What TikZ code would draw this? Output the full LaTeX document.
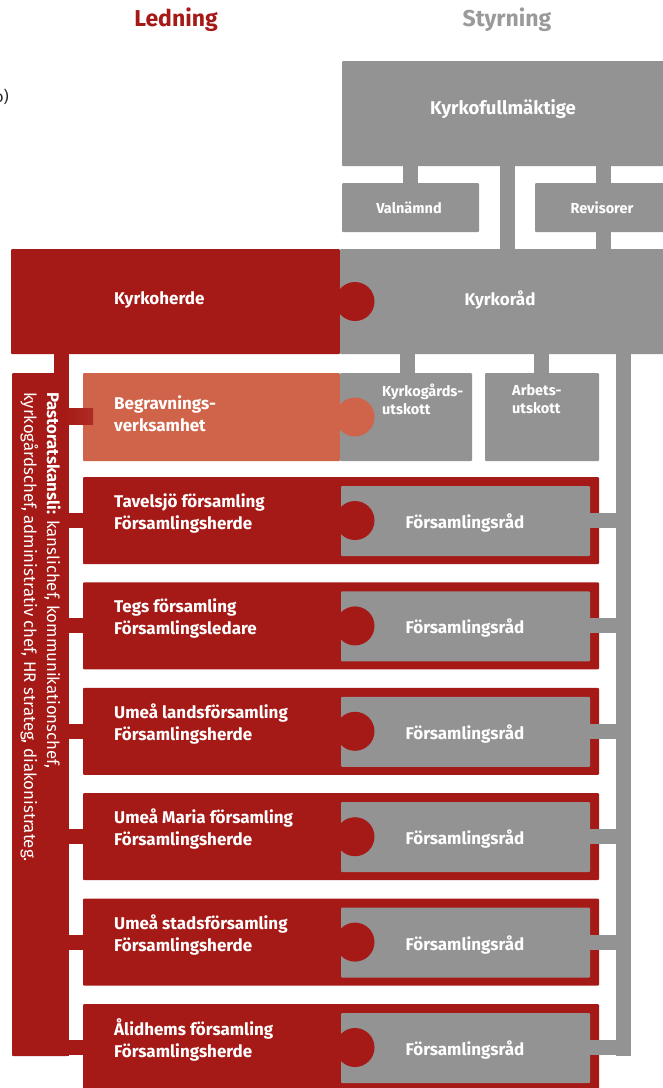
\documentclass[tikz,border=0pt]{standalone}
\usepackage{fontspec}
\setmainfont{Fira Sans}
\definecolor{dred}{HTML}{A51916}
\definecolor{gr}{HTML}{939393}
\definecolor{coral}{HTML}{D0644A}
\definecolor{tgray}{HTML}{9A9A9A}
\usetikzlibrary{fit}
\tikzset{
  boxbase/.style={inner sep=0pt, outer sep=0pt, rounded corners=1pt, draw=none},
  lbl/.style={text=white, font=\fontsize{17}{22}\selectfont\bfseries, inner sep=0pt, align=left},
  slbl/.style={text=white, font=\fontsize{14.5}{18}\selectfont\bfseries, inner sep=0pt, align=left},
  gconn/.style={draw=gr, line width=15pt},
  rconn/.style={draw=dred, line width=15pt},
  knob/.style={circle, inner sep=0pt, minimum size=39pt, draw=none},
  ttl/.style={font=\fontsize{23}{26}\selectfont\bfseries, inner sep=0pt}
}
\newcommand{\rbox}[6]{% name, x1, y1, x2, y2, color
  \path[fill=#6, rounded corners=1pt] (#2,#3) rectangle (#4,#5);
  \node[boxbase, fit={(#2,#3) (#4,#5)}] (#1) {};
}
\begin{document}
\begin{tikzpicture}[x=1pt,y=-1pt]
\useasboundingbox (0,0) rectangle (662,1088);

% clipped fragment at the left edge
\node[anchor=east, inner sep=0pt, font=\fontsize{16}{18}\selectfont, text=black!85] (frag) at (9,97) {o)};

% titles
\node[ttl, text=dred] (ledning) at (176,20) {Ledning};
\node[ttl, text=tgray] (styrning) at (507,20) {Styrning};

% ---- top governance ----
\rbox{kf}{342}{61}{672}{166}{gr}
\node[font=\fontsize{18.5}{22}\selectfont\bfseries, text=white, inner sep=0pt] (kft) at (503,109) {Kyrkofullmäktige};

% connectors from Kyrkofullmäktige
\draw[gconn] (kf.south -| 410.5,0) -- (410.5,183);
\draw[gconn] (kf.south -| 507.5,0) -- (507.5,252);
\draw[gconn] (kf.south -| 603.5,0) -- (603.5,252);

\rbox{val}{342}{183}{479}{232}{gr}
\node[slbl] (valt) at (409,208) {Valnämnd};
\rbox{rev}{535}{183}{672}{232}{gr}
\node[slbl] (revt) at (602,208) {Revisorer};

% ---- Kyrkoherde / Kyrkoråd ----
\draw[rconn] (61,350) -- (61,1056);
\draw[gconn] (623.5,350) -- (623.5,1056);
\draw[gconn] (407.5,350) -- (407.5,376);
\draw[gconn] (541.5,350) -- (541.5,376);

\rbox{kh}{11}{249}{340}{354}{dred}
\rbox{kr}{340}{249}{672}{354}{gr}
\node[knob, fill=dred] (khk) at (355,301.5) {};
\node[lbl, anchor=west] (kht) at (114,300) {Kyrkoherde};
\node[lbl] (krt) at (500,300) {Kyrkoråd};

% Pastoratskansli
\rbox{past}{12}{373}{68}{1056}{dred}
\node[rotate=-90, anchor=north west, inner sep=0pt, align=left, text=white,
      font=\fontsize{16.8}{23}\selectfont] (pastt) at (61,392)
  {\textbf{Pastoratskansli:} kanslichef, kommunikationschef,\\kyrkogårdschef, administrativ chef, HR strateg, diakonistrateg.};

% Begravningsverksamhet
\rbox{beg}{83}{373}{340}{461}{coral}
\rbox{kgu}{340}{373}{472}{461}{gr}
\rbox{au}{485}{373}{599}{461}{gr}
\node[knob, fill=coral] (begk) at (355,417) {};
\path[left color=dred, right color=dred!75!coral] (63,408) rectangle (93,424);
\node[lbl, anchor=west] (begt) at (114,414) {Begravnings-\\verksamhet};
\node[slbl, anchor=west] (kgut) at (382,399) {Kyrkogårds-\\utskott};
\node[slbl, anchor=west] (aut) at (512,399) {Arbets-\\utskott};

% ---- parishes ----
\foreach \i/\nameA/\nameB in {0/Tavelsjö församling/Församlingsherde,
                              1/Tegs församling/Församlingsledare,
                              2/Umeå landsförsamling/Församlingsherde,
                              3/Umeå Maria församling/Församlingsherde,
                              4/Umeå stadsförsamling/Församlingsherde,
                              5/Ålidhems församling/Församlingsherde}{
  \pgfmathsetmacro{\T}{477+105.4*\i}
  \pgfmathsetmacro{\Tb}{\T+87}
  \pgfmathsetmacro{\Ti}{\T+9}
  \pgfmathsetmacro{\Tj}{\T+79}
  \pgfmathsetmacro{\Tc}{\T+43.5}
  \rbox{par\i}{83}{\T}{599}{\Tb}{dred}
  \rbox{fr\i}{341}{\Ti}{590}{\Tj}{gr}
  \draw[rconn] (past.east |- 0,\Tc) -- (par\i.west |- 0,\Tc);
  \draw[gconn] (fr\i.east |- 0,\Tc) -- (616.5,\Tc);
  \node[knob, fill=dred] (park\i) at (355,\Tc) {};
  \node[lbl, anchor=west] (part\i) at (114,\T+36) {\nameA\\\nameB};
  \node[lbl] (frt\i) at (465,\T+46) {Församlingsråd};
}
\end{tikzpicture}
\end{document}
